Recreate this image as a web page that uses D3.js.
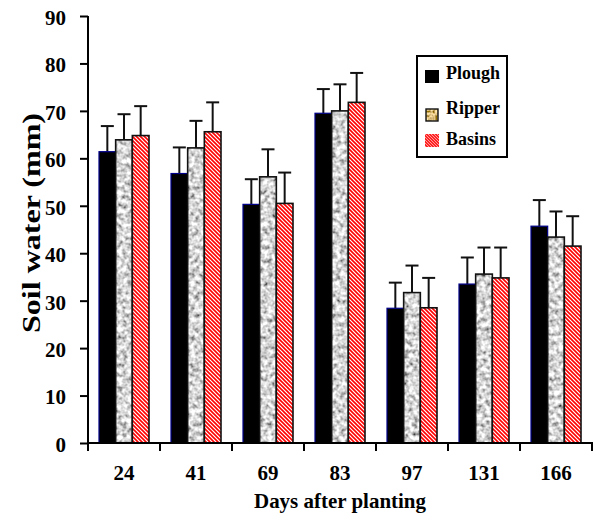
<!DOCTYPE html>
<html><head><meta charset="utf-8">
<script src="https://cdn.jsdelivr.net/npm/d3@7"></script>
<style>body{margin:0;background:#fff}svg{display:block}svg text{font-family:"Liberation Serif","Times New Roman",Times,"DejaVu Serif",serif !important;font-weight:bold}</style>
</head><body>
<script>
const days = ["24","41","69","83","97","131","166"];
const seriesNames = ["Plough","Ripper","Basins"];
const plough = [61.4, 56.8, 50.3, 69.5, 28.4, 33.5, 45.7];
const ripper = [63.9, 62.2, 56.1, 70.0, 31.7, 35.6, 43.4];
const basins = [64.8, 65.6, 50.5, 71.8, 28.5, 34.8, 41.5];
const ploughErr = [66.8, 62.3, 55.6, 74.6, 33.8, 39.1, 51.2];
const ripperErr = [69.3, 67.9, 61.9, 75.6, 37.4, 41.2, 48.8];
const basinsErr = [71.0, 71.8, 57.0, 78.0, 34.8, 41.2, 47.8];
const yTicks = [0,10,20,30,40,50,60,70,80,90];

const W=593,H=513;
const svg=d3.select("body").append("svg").attr("width",W).attr("height",H);
const defs=svg.append("defs");
const hp=defs.append("pattern").attr("id","hatch").attr("patternUnits","userSpaceOnUse")
 .attr("width",4).attr("height",4);
hp.append("rect").attr("width",4).attr("height",4).attr("fill","#fff");
hp.append("path").attr("d","M-1,-1 L5,5 M-1,3 L1,5 M3,-1 L5,1").attr("stroke","#f00").attr("stroke-width",1.6);
const hp2=defs.append("pattern").attr("id","hatch2").attr("patternUnits","userSpaceOnUse")
 .attr("width",3).attr("height",3);
hp2.append("rect").attr("width",3).attr("height",3).attr("fill","#f22");
hp2.append("path").attr("d","M-1,-1 L4,4").attr("stroke","#fbb").attr("stroke-width",0.8);
const f=defs.append("filter").attr("id","granite").attr("x",0).attr("y",0).attr("width",1).attr("height",1);
f.append("feTurbulence").attr("type","fractalNoise").attr("baseFrequency",0.22).attr("numOctaves",2).attr("seed",7).attr("result","n");
f.append("feColorMatrix").attr("in","n").attr("type","matrix")
 .attr("values","1.7 0 0 0 -0.17  1.7 0 0 0 -0.17  1.7 0 0 0 -0.17  0 0 0 0 1").attr("result","g");
f.append("feComposite").attr("in","g").attr("in2","SourceGraphic").attr("operator","in");
const ft=defs.append("filter").attr("id","tan").attr("x",0).attr("y",0).attr("width",1).attr("height",1);
ft.append("feTurbulence").attr("type","fractalNoise").attr("baseFrequency",0.45).attr("numOctaves",1).attr("seed",5).attr("result","n");
ft.append("feColorMatrix").attr("in","n").attr("type","matrix")
 .attr("values","1.8 0 0 0 -0.2  1.5 0 0 0 -0.25  1.0 0 0 0 -0.3  0 0 0 0 1").attr("result","g");
ft.append("feComposite").attr("in","g").attr("in2","SourceGraphic").attr("operator","in");

const x0=d3.scaleBand().domain(days).range([88,592]).paddingInner(0).paddingOuter(0);
const x1=d3.scaleBand().domain(seriesNames).range([11,61]).padding(0);
const y=d3.scaleLinear().domain([0,90]).range([443,16]);

const vals=[plough,ripper,basins], errs=[ploughErr,ripperErr,basinsErr];
const data=[];
days.forEach((d,i)=>seriesNames.forEach((s,j)=>data.push({d,s,j,v:vals[j][i],e:errs[j][i]})));

const g=svg.append("g");
const cx=d=>x0(d.d)+x1(d.s)+x1.bandwidth()/2;
const eb=g.selectAll("g.eb").data(data).join("g");
eb.append("line").attr("x1",cx).attr("x2",cx)
 .attr("y1",d=>y(d.v)).attr("y2",d=>y(d.e)).attr("stroke","#111").attr("stroke-width",2);
eb.append("line").attr("x1",d=>cx(d)-6.5).attr("x2",d=>cx(d)+6.5)
 .attr("y1",d=>y(d.e)).attr("y2",d=>y(d.e)).attr("stroke","#111").attr("stroke-width",2);
const bars=g.selectAll("g.bar").data(data).join("g");
bars.each(function(d){
  const s=d3.select(this);
  const bx=x0(d.d)+x1(d.s), bw=x1.bandwidth(), by=y(d.v), bh=y(0)-y(d.v);
  if(d.j===0){
    s.append("rect").attr("x",bx).attr("y",by).attr("width",bw).attr("height",bh).attr("fill","#000")
     .attr("stroke","#00008a").attr("stroke-width",1.2);
  } else if(d.j===1){
    s.append("rect").attr("x",bx).attr("y",by).attr("width",bw).attr("height",bh).attr("fill","#fff").attr("filter","url(#granite)");
    s.append("rect").attr("x",bx).attr("y",by).attr("width",bw).attr("height",bh).attr("fill","none").attr("stroke","#111").attr("stroke-width",1.6);
  } else {
    s.append("rect").attr("x",bx).attr("y",by).attr("width",bw).attr("height",bh).attr("fill","url(#hatch)")
     .attr("stroke","#111").attr("stroke-width",1.6);
  }
});

const ya=svg.append("g").attr("transform","translate(88,0)")
 .call(d3.axisLeft(y).tickValues(yTicks).tickSize(8).tickPadding(14).tickFormat(d3.format("d")));
ya.attr("font-family",null);
ya.select(".domain").attr("stroke","#000").attr("stroke-width",2).attr("d","M0,16V443");
ya.selectAll(".tick line").attr("stroke","#000").attr("stroke-width",2);
ya.selectAll("text").attr("font-size",21).attr("fill","#000").attr("dy","0.4em");

const xa=svg.append("g").attr("transform","translate(0,443)")
 .call(d3.axisBottom(x0).tickSize(0).tickPadding(22));
xa.attr("font-family",null);
xa.select(".domain").attr("stroke","#000").attr("stroke-width",2).attr("d","M88,0H593");
xa.selectAll("text").attr("font-size",21).attr("fill","#000");
const bounds=days.map(d=>x0(d)).concat([x0.range()[1]]);
svg.append("g").selectAll("line").data(bounds).join("line")
 .attr("x1",d=>d).attr("x2",d=>d).attr("y1",443).attr("y2",451).attr("stroke","#000").attr("stroke-width",2);

svg.append("text").attr("x",340).attr("y",508).attr("text-anchor","middle").attr("font-size",21)
 .attr("textLength",172).attr("lengthAdjust","spacingAndGlyphs").text("Days after planting");
svg.append("text").attr("transform","translate(40,223) rotate(-90)").attr("text-anchor","middle").attr("font-size",26)
 .attr("textLength",220).attr("lengthAdjust","spacingAndGlyphs").text("Soil water (mm)");

const lg=svg.append("g");
lg.append("rect").attr("x",417).attr("y",56).attr("width",90).attr("height",101).attr("fill","#fff").attr("stroke","#000").attr("stroke-width",2);
const iconY=[70,109,134];
const textY=[79,114,145];
seriesNames.forEach((s,i)=>{
  const iy=iconY[i];
  if(i===0) lg.append("rect").attr("x",425).attr("y",iy).attr("width",14).attr("height",13).attr("fill","#000");
  else if(i===1){
    lg.append("rect").attr("x",426).attr("y",iy).attr("width",12).attr("height",12).attr("fill","#fff").attr("filter","url(#tan)");
    lg.append("rect").attr("x",426).attr("y",iy).attr("width",12).attr("height",12).attr("fill","none").attr("stroke","#111").attr("stroke-width",1.4);
  } else lg.append("rect").attr("x",425).attr("y",iy).attr("width",14).attr("height",13).attr("fill","url(#hatch2)");
  lg.append("text").attr("x",446).attr("y",textY[i]).attr("font-size",18).text(s);
});
</script>
</body></html>
